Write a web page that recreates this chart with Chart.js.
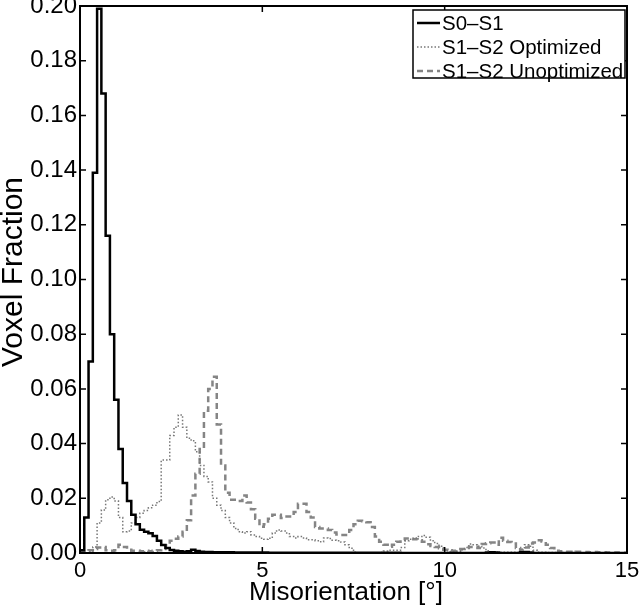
<!DOCTYPE html>
<html>
<head>
<meta charset="utf-8">
<script src="https://cdn.jsdelivr.net/npm/chart.js@4"></script>
<style>
  html, body { margin: 0; padding: 0; background: #fff; }
</style>
</head>
<body>
<canvas id="chart" width="640" height="614"></canvas>
<script>
// ===== DATA (128 bins over 0-15 deg) =====
const binWidth = 15 / 128;
const xTicks = [0, 5, 10, 15];
const yTicks = [0, 0.02, 0.04, 0.06, 0.08, 0.10, 0.12, 0.14, 0.16, 0.18, 0.20];
const seriesLabels = ["S0\u2013S1", "S1\u2013S2 Optimized", "S1\u2013S2 Unoptimized"];
const xTitle = "Misorientation [\u00b0]";
const yTitle = "Voxel Fraction";

const s0s1 = [
  0.001, 0.013, 0.070, 0.139, 0.199, 0.168, 0.116, 0.080, 0.056, 0.038,
  0.0256, 0.019, 0.014, 0.0105, 0.0085, 0.0078, 0.0072, 0.0062, 0.0045, 0.0029,
  0.0018, 0.0011, 0.0008, 0.0006, 0.0005, 0.0006, 0.0012, 0.0007, 0.0005, 0.0004,
  0.0004, 0.0003, 0.0003, 0.0003, 0.0003, 0.0003, 0.0002, 0.0002, 0.0002, 0.0002,
  0.0002, 0.0002, 0.0002, 0.0002, 0.0001, 0.0001, 0.0001, 0.0001, 0.0001, 0.0001,
  0.0001, 0.0001, 0.0001, 0.0001, 0.0001, 0.0001, 0.0001, 0.0001, 0.0001, 0.0001,
  0.0001, 0.0001, 0.0001, 0.0001, 0.0001, 0.0001, 0.0001, 0.0001, 0.0001, 0.0001,
  0.0001, 0.0001, 0.0001, 0.0001, 0.0001, 0, 0, 0, 0, 0,
  0, 0, 0, 0, 0, 0, 0, 0, 0, 0,
  0, 0, 0, 0, 0, 0.0002, 0.0003, 0.0002, 0, 0,
  0, 0, 0, 0.0003, 0.0004, 0.0002, 0, 0, 0, 0,
  0, 0, 0, 0, 0, 0, 0, 0, 0, 0,
  0, 0, 0, 0, 0, 0, 0, 0
];

const s1s2Opt = [
  0, 0, 0.0005, 0.0022, 0.011, 0.0157, 0.0195, 0.0205, 0.019, 0.013,
  0.0078, 0.008, 0.011, 0.013, 0.0145, 0.0155, 0.0165, 0.0175, 0.0188, 0.034,
  0.034, 0.043, 0.046, 0.0505, 0.046, 0.042, 0.041, 0.037, 0.032, 0.028,
  0.026, 0.020, 0.0175, 0.0155, 0.013, 0.011, 0.009, 0.0078, 0.0073, 0.0078,
  0.0066, 0.006, 0.0054, 0.005, 0.0054, 0.0073, 0.0084, 0.008, 0.0073, 0.006,
  0.0055, 0.006, 0.0055, 0.0048, 0.0048, 0.0045, 0.0041, 0.0055, 0.0053, 0.0047,
  0.0045, 0.004, 0.003, 0.0017, 0.0003, 0.0001, 0.0001, 0, 0.0001, 0.0001,
  0.0002, 0.0007, 0.001, 0.001, 0.001, 0.002, 0.0045, 0.005, 0.0055, 0.006,
  0.0064, 0.0058, 0.0045, 0.0035, 0.0025, 0.001, 0.0005, 0.0005, 0.0006, 0.0012,
  0.002, 0.0033, 0.003, 0.0025, 0.0018, 0.0008, 0.0004, 0.0003, 0.0003, 0.0003,
  0.0003, 0.0003, 0.0003, 0.0015, 0.003, 0.0025, 0.001, 0.0003, 0.0003, 0.0002,
  0.0002, 0.0002, 0.0002, 0.0002, 0.0001, 0.0001, 0.0001, 0.0001, 0.0001, 0.0001,
  0.0001, 0.0001, 0.0001, 0.0001, 0.0001, 0.0001, 0, 0
];

const s1s2Unopt = [
  0.0003, 0.0008, 0.001, 0.0015, 0.002, 0.0022, 0.001, 0.0008, 0.001, 0.003,
  0.0022, 0.0012, 0.0008, 0.0008, 0.0006, 0.0008, 0.0006, 0.0008, 0.001, 0.0015,
  0.0028, 0.0045, 0.0052, 0.006, 0.0078, 0.012, 0.021, 0.029, 0.038, 0.052,
  0.060, 0.0644, 0.047, 0.032, 0.022, 0.0195, 0.0195, 0.019, 0.021, 0.0185,
  0.016, 0.0125, 0.0096, 0.0105, 0.0125, 0.014, 0.014, 0.0128, 0.0133, 0.0133,
  0.015, 0.018, 0.018, 0.015, 0.013, 0.0095, 0.009, 0.009, 0.0084, 0.0075,
  0.0068, 0.0066, 0.0066, 0.0084, 0.0105, 0.0118, 0.0116, 0.0112, 0.0095, 0.006,
  0.0041, 0.003, 0.0023, 0.003, 0.0041, 0.0047, 0.0053, 0.0051, 0.005, 0.0047,
  0.0041, 0.0032, 0.0026, 0.0022, 0.0017, 0.0012, 0.001, 0.0008, 0.001, 0.0015,
  0.0018, 0.0022, 0.0023, 0.0018, 0.0033, 0.0036, 0.0038, 0.003, 0.0056, 0.0045,
  0.004, 0.0035, 0.0018, 0.001, 0.002, 0.0035, 0.0038, 0.0047, 0.0042, 0.003,
  0.0018, 0.0008, 0.0006, 0.0005, 0.0005, 0.0004, 0.0005, 0.0004, 0.0004, 0.0003,
  0.0004, 0.0003, 0.0003, 0.0002, 0.0002, 0.0002, 0.0001, 0.0001
];

// stairs: one point per left bin edge, plus closing point at the right edge
function stairs(values) {
  const pts = values.map((v, i) => ({ x: i * binWidth, y: v }));
  pts.push({ x: values.length * binWidth, y: values[values.length - 1] });
  return pts;
}

const FONT = '"Liberation Sans", Arial, Helvetica, sans-serif';

// ===== frame, inward ticks, titles and boxed legend (MATLAB look) =====
const matlabFrame = {
  id: "matlabFrame",
  afterDatasetsDraw(chart) {
    const { ctx, chartArea: a, scales: { x, y } } = chart;
    ctx.save();
    ctx.setLineDash([]);
    ctx.strokeStyle = "#000";
    ctx.lineWidth = 2;
    ctx.strokeRect(a.left, a.top, a.right - a.left, a.bottom - a.top);

    ctx.lineWidth = 1.5;
    ctx.beginPath();
    xTicks.forEach(v => {
      const px = x.getPixelForValue(v);
      ctx.moveTo(px, a.bottom); ctx.lineTo(px, a.bottom - 6);
      ctx.moveTo(px, a.top); ctx.lineTo(px, a.top + 6);
    });
    yTicks.forEach(v => {
      const py = y.getPixelForValue(v);
      ctx.moveTo(a.left, py); ctx.lineTo(a.left + 6, py);
      ctx.moveTo(a.right, py); ctx.lineTo(a.right - 6, py);
    });
    ctx.stroke();

    // axis titles
    ctx.fillStyle = "#000";
    ctx.textAlign = "center";
    ctx.textBaseline = "middle";
    ctx.font = "26px " + FONT;
    ctx.fillText(xTitle, 346, 593);
    ctx.save();
    ctx.translate(14, 272);
    ctx.rotate(-Math.PI / 2);
    ctx.font = "30px " + FONT;
    ctx.fillText(yTitle, 0, 0);
    ctx.restore();

    // legend box
    const lx = 413, ly = 10, lw = 212, lh = 68;
    ctx.fillStyle = "#fff";
    ctx.fillRect(lx, ly, lw, lh);
    ctx.lineWidth = 1.5;
    ctx.strokeStyle = "#000";
    ctx.strokeRect(lx, ly, lw, lh);

    ctx.font = "20.5px " + FONT;
    ctx.textBaseline = "middle";
    ctx.textAlign = "left";
    chart.data.datasets.forEach((ds, i) => {
      const cy = ly + 13 + i * 24;
      ctx.strokeStyle = ds.borderColor;
      ctx.lineWidth = ds.borderWidth;
      ctx.setLineDash(ds.borderDash || []);
      ctx.beginPath();
      ctx.moveTo(lx + 4, cy);
      ctx.lineTo(lx + 27, cy);
      ctx.stroke();
      ctx.setLineDash([]);
      ctx.fillStyle = "#000";
      ctx.fillText(ds.label, lx + 29, cy + 1);
    });
    ctx.restore();
  }
};

new Chart(document.getElementById("chart"), {
  type: "line",
  data: {
    datasets: [
      {
        label: seriesLabels[0],
        data: stairs(s0s1),
        borderColor: "#000",
        borderWidth: 2.5,
        stepped: "before",
        pointRadius: 0
      },
      {
        label: seriesLabels[1],
        data: stairs(s1s2Opt),
        borderColor: "#777",
        borderWidth: 1.5,
        borderDash: [1.5, 2],
        stepped: "before",
        pointRadius: 0
      },
      {
        label: seriesLabels[2],
        data: stairs(s1s2Unopt),
        borderColor: "#858585",
        borderWidth: 2.5,
        borderDash: [6, 4],
        stepped: "before",
        pointRadius: 0
      }
    ]
  },
  options: {
    responsive: false,
    devicePixelRatio: 1,
    animation: false,
    layout: { padding: { left: 0, right: 13, top: 6, bottom: 0 } },
    plugins: {
      legend: { display: false },
      tooltip: { enabled: false }
    },
    scales: {
      x: {
        type: "linear",
        min: 0,
        max: 15,
        afterBuildTicks: s => { s.ticks = xTicks.map(v => ({ value: v })); },
        afterFit: s => { s.height = 61; s.paddingLeft = 0; s.paddingRight = 0; },
        grid: { display: false, drawTicks: false },
        border: { display: false },
        ticks: {
          color: "#000",
          padding: 5,
          maxRotation: 0,
          font: { family: FONT, size: 22 }
        }
      },
      y: {
        min: 0,
        max: 0.2,
        afterBuildTicks: s => { s.ticks = yTicks.map(v => ({ value: v })); },
        afterFit: s => { s.width = 80; s.paddingTop = 0; s.paddingBottom = 0; },
        grid: { display: false, drawTicks: false },
        border: { display: false },
        ticks: {
          color: "#000",
          padding: 3,
          font: { family: FONT, size: 24 },
          callback: v => v.toFixed(2)
        }
      }
    }
  },
  plugins: [matlabFrame]
});
</script>
</body>
</html>
